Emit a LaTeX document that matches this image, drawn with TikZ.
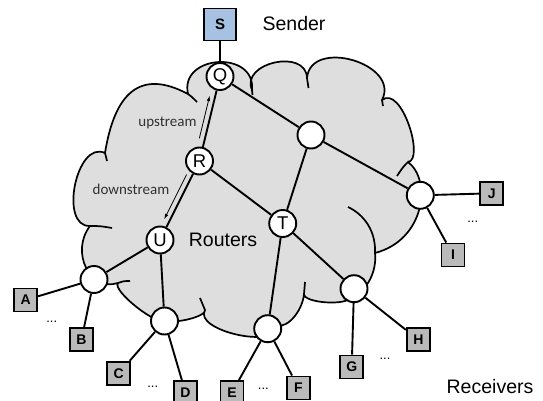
\documentclass[tikz,border=0pt]{standalone}
\usepackage{fontspec}
\setmainfont{Liberation Sans}
\newfontfamily\calib{Carlito}
\usetikzlibrary{calc,arrows.meta}
\definecolor{cloudgray}{RGB}{222,222,222}
\definecolor{boxgray}{RGB}{186,186,186}
\definecolor{sendblue}{RGB}{166,193,226}
\definecolor{annotc}{RGB}{50,50,50}
\begin{document}
\begin{tikzpicture}[x=1pt,y=-1pt,
  router/.style={circle,draw,line width=1.9pt,fill=white,minimum size=27pt,inner sep=0pt,font=\fontsize{18.5}{19}\selectfont},
  rcv/.style={rectangle,draw,line width=1.9pt,fill=boxgray,minimum size=23pt,inner sep=0pt,font=\bfseries\fontsize{14}{15}\selectfont},
  link/.style={line width=1.9pt},
  cloudline/.style={line width=1.7pt,line join=round},
  biglabel/.style={font=\fontsize{19.5}{20}\selectfont,inner sep=0pt,anchor=base},
  annot/.style={font=\calib\fontsize{15}{16}\selectfont,text=annotc,inner sep=0pt,anchor=base},
  dots/.style={font=\fontsize{13}{14}\selectfont,inner sep=0pt},
  flow/.style={line width=0.8pt,-{Latex[length=5.5pt,width=3.5pt]}}
]
\useasboundingbox (0,0) rectangle (543,401);

% cloud
\path[cloudline,draw,fill=cloudgray] (105,153) .. controls (114.6,93.6) and (139.6,68.2) .. (188,94)
 .. controls (179.1,54.5) and (255.9,49.7) .. (252,90)
 .. controls (240.2,62.5) and (306.2,48.1) .. (307,78)
 .. controls (310.7,37.4) and (400.7,63.8) .. (382,100)
 .. controls (401.5,84.5) and (425,160) .. (408,162)
 .. controls (432,180) and (425,240) .. (375,253)
 .. controls (377,270) and (368,292) .. (350,297)
 .. controls (349,306) and (303.5,303.3) .. (304,294)
 .. controls (303,308) and (290,328) .. (276,326)
 .. controls (278.1,349.7) and (192.9,330.5) .. (205,310)
 .. controls (206.6,316.5) and (173.6,324.5) .. (166,320)
 .. controls (159.4,328.4) and (111.4,290.4) .. (118,283)
 .. controls (90,292) and (70,252) .. (90,226)
 .. controls (58.5,227.1) and (76.5,139.5) .. (105,153) -- cycle;
% inner arcs of the cloud
\draw[cloudline] (188,94) .. controls (192,97) .. (197,102);
\draw[cloudline] (252,90) -- (252.5,95);
\draw[cloudline] (307,78) -- (308.5,88);
\draw[cloudline] (382,100) -- (383,106);
\draw[cloudline] (408,162) .. controls (403,167) .. (397,176);
\draw[cloudline] (348,207) .. controls (365,215) and (376,232) .. (375,253);
\draw[cloudline] (304,294) .. controls (304,288) .. (305,282);
\draw[cloudline] (205,310) .. controls (202,304) .. (200,298);
\draw[cloudline] (118,283) .. controls (124,281) .. (130,281);
\draw[cloudline] (90,226) .. controls (100,226) .. (112,228);
\draw[cloudline] (105,153) -- (107,161);

% routers
\node[router] (Q) at (220,76.5) {Q};
\node[router] (P) at (311,135) {};
\node[router] (R) at (199.5,161) {R};
\node[router] (T) at (282.7,223.5) {T};
\node[router] (U) at (160,240) {U};
\node[router] (K) at (420.3,195.3) {};
\node[router] (L) at (94,279.5) {};
\node[router] (M) at (164.5,321) {};
\node[router] (N) at (267.7,328.7) {};
\node[router] (O) at (354,288.7) {};

% hosts
\node[rcv,fill=sendblue,minimum size=32pt,font=\bfseries\fontsize{15}{16}\selectfont] (S) at (220,24.5) {S};
\node[rcv] (bJ) at (491.7,193.3) {J};
\node[rcv] (bI) at (453,255) {I};
\node[rcv] (bA) at (25.7,300) {A};
\node[rcv] (bB) at (81.5,339.7) {B};
\node[rcv] (bC) at (118.8,373.3) {C};
\node[rcv] (bD) at (185.5,392.5) {D};
\node[rcv] (bE) at (232,392.5) {E};
\node[rcv] (bF) at (298.5,388) {F};
\node[rcv] (bG) at (351.7,367) {G};
\node[rcv] (bH) at (418.3,339.7) {H};

% links
\draw[link] (S) -- (Q);
\draw[link] (Q) -- (P);
\draw[link] (Q) -- (R);
\draw[link] (R) -- (U);
\draw[link] (R) -- (T);
\draw[link] (P) -- (T);
\draw[link] (P) -- (K);
\draw[link] (K) -- (bJ);
\draw[link] (K) -- (bI);
\draw[link] (U) -- (L);
\draw[link] (U) -- (M);
\draw[link] (L) -- (bA);
\draw[link] (L) -- (bB);
\draw[link] (M) -- (bC);
\draw[link] (M) -- (bD);
\draw[link] (T) -- (N);
\draw[link] (T) -- (O);
\draw[link] (N) -- (bE);
\draw[link] (N) -- (bF);
\draw[link] (O) -- (bG);
\draw[link] (O) -- (bH);

% flow arrows
\draw[flow] ($(R)!22pt!(Q)!5.5pt!90:(Q)$) -- ($(R)!66pt!(Q)!5.5pt!90:(Q)$);
\draw[flow] ($(R)!18pt!(U)!5.5pt!-90:(U)$) -- ($(R)!68pt!(U)!5.5pt!-90:(U)$);

% labels
\node[biglabel] (sender) at (294,30.7) {Sender};
\node[biglabel] (routers) at (223,246) {Routers};
\node[biglabel] (receivers) at (490,393) {Receivers};
\node[annot] (up) at (167.5,127) {upstream};
\node[annot] (down) at (131,194.5) {downstream};

% ellipses
\node[dots] (d1) at (51.7,321.7) {...};
\node[dots] (d2) at (152.7,387.3) {...};
\node[dots] (d3) at (263.3,389.3) {...};
\node[dots] (d4) at (385,359.3) {...};
\node[dots] (d5) at (472.7,221.7) {...};
\end{tikzpicture}
\end{document}
